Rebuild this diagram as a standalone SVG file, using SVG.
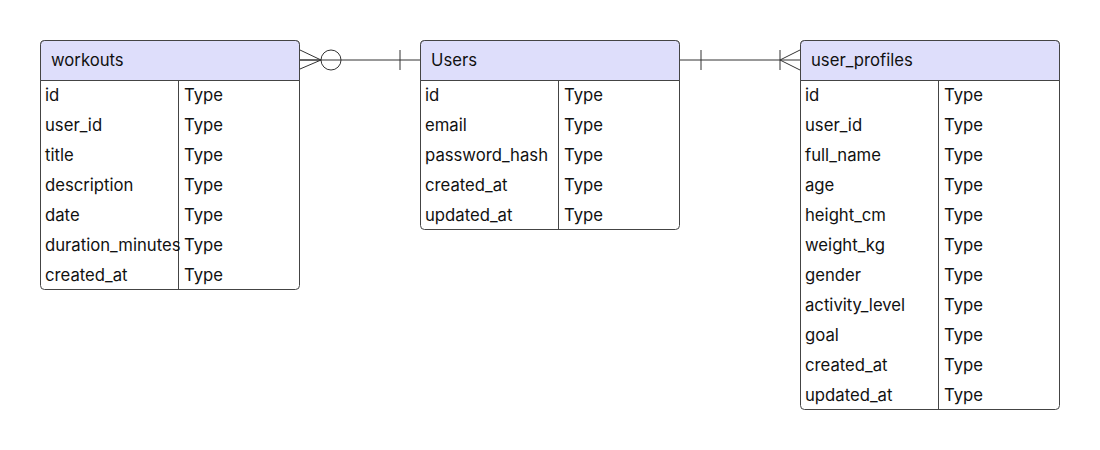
<svg xmlns="http://www.w3.org/2000/svg" width="1100" height="450" viewBox="0 0 1100 450">
<style>
.box{fill:#ffffff;stroke:#444;stroke-width:1}
.hdr{fill:#dedefb;stroke:#444;stroke-width:1}
.ln{stroke:#444;stroke-width:1;fill:none}
text{font-family:Inter,"Liberation Sans",sans-serif;font-size:16.7px;fill:#111}
.rel{stroke:#333;stroke-width:1;fill:none}
</style>
<rect width="1100" height="450" fill="#ffffff"/>
<g id="connectors">
<line class="rel" x1="300" y1="60" x2="420" y2="60"/>
<path class="rel" d="M300,50 L321,60 L300,69 M300,60 L321,60"/>
<circle class="rel" cx="331" cy="60" r="10" fill="#fff"/>
<line class="rel" x1="400" y1="50" x2="400" y2="70"/>
<line class="rel" x1="680" y1="60" x2="800" y2="60"/>
<line class="rel" x1="701" y1="50" x2="701" y2="70"/>
<line class="rel" x1="780" y1="50" x2="780" y2="70"/>
<path class="rel" d="M800,50 L780,60 L800,70"/>
</g>
<g id="workouts">
<rect class="box" x="40.5" y="40.5" width="259" height="249" rx="4"/>
<path class="hdr" d="M40.5,80.5 V44.5 a4,4 0 0 1 4,-4 H295.5 a4,4 0 0 1 4,4 V80.5 Z"/>
<line class="ln" x1="178.5" y1="80.5" x2="178.5" y2="289.5"/>
<text x="51" y="66">workouts</text>
<text x="45" y="101">id</text><text x="184" y="101">Type</text>
<text x="45" y="131">user_id</text><text x="184" y="131">Type</text>
<text x="45" y="161">title</text><text x="184" y="161">Type</text>
<text x="45" y="191">description</text><text x="184" y="191">Type</text>
<text x="45" y="221">date</text><text x="184" y="221">Type</text>
<text x="45" y="251">duration_minutes</text><text x="184" y="251">Type</text>
<text x="45" y="281">created_at</text><text x="184" y="281">Type</text>
</g>
<g id="users">
<rect class="box" x="420.5" y="40.5" width="259" height="189" rx="4"/>
<path class="hdr" d="M420.5,80.5 V44.5 a4,4 0 0 1 4,-4 H675.5 a4,4 0 0 1 4,4 V80.5 Z"/>
<line class="ln" x1="558.5" y1="80.5" x2="558.5" y2="229.5"/>
<text x="431" y="66">Users</text>
<text x="425" y="101">id</text><text x="564" y="101">Type</text>
<text x="425" y="131">email</text><text x="564" y="131">Type</text>
<text x="425" y="161">password_hash</text><text x="564" y="161">Type</text>
<text x="425" y="191">created_at</text><text x="564" y="191">Type</text>
<text x="425" y="221">updated_at</text><text x="564" y="221">Type</text>
</g>
<g id="user_profiles">
<rect class="box" x="800.5" y="40.5" width="259" height="369" rx="4"/>
<path class="hdr" d="M800.5,80.5 V44.5 a4,4 0 0 1 4,-4 H1055.5 a4,4 0 0 1 4,4 V80.5 Z"/>
<line class="ln" x1="938.5" y1="80.5" x2="938.5" y2="409.5"/>
<text x="811" y="66">user_profiles</text>
<text x="805" y="101">id</text><text x="944" y="101">Type</text>
<text x="805" y="131">user_id</text><text x="944" y="131">Type</text>
<text x="805" y="161">full_name</text><text x="944" y="161">Type</text>
<text x="805" y="191">age</text><text x="944" y="191">Type</text>
<text x="805" y="221">height_cm</text><text x="944" y="221">Type</text>
<text x="805" y="251">weight_kg</text><text x="944" y="251">Type</text>
<text x="805" y="281">gender</text><text x="944" y="281">Type</text>
<text x="805" y="311">activity_level</text><text x="944" y="311">Type</text>
<text x="805" y="341">goal</text><text x="944" y="341">Type</text>
<text x="805" y="371">created_at</text><text x="944" y="371">Type</text>
<text x="805" y="401">updated_at</text><text x="944" y="401">Type</text>
</g>
</svg>
